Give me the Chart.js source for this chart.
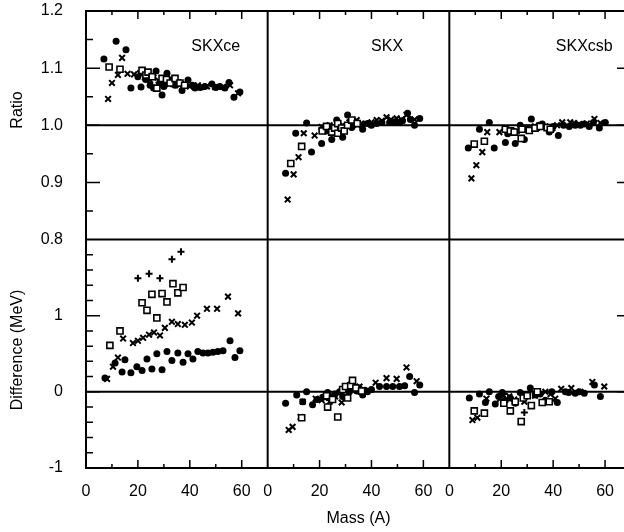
<!DOCTYPE html>
<html>
<head>
<meta charset="utf-8">
<script src="https://cdn.jsdelivr.net/npm/chart.js@4"></script>
<style>
  html, body { margin: 0; padding: 0; background: #fff; overflow: hidden; }
</style>
</head>
<body>
<canvas id="chart" width="640" height="532"></canvas>
<script>
// [mass, value] pairs
const panelNames = ['SKXce', 'SKX', 'SKXcsb'];
const massTicks = [0, 20, 40, 60];
const ratioTicks = [0.8, 0.9, 1.0, 1.1, 1.2];
const diffTicks = [-1, 0, 1];

const ceRatioDot = [[6.9,1.116],[11.6,1.147],[15.4,1.132],[17.3,1.065],[20,1.085],[21.2,1.067],[23,1.08],[24.7,1.07],[26,1.065],[27.0,1.095],[28.5,1.072],[29.3,1.053],[30,1.068],[31.2,1.091],[33,1.079],[34.3,1.07],[36,1.075],[37.0,1.061],[39.3,1.079],[41,1.07],[42.0,1.065],[44,1.066],[45.8,1.068],[48.5,1.072],[50,1.066],[51.6,1.068],[53.5,1.065],[55.1,1.075],[57.0,1.049],[59.3,1.058]];
const ceRatioCross = [[8.5,1.046],[10,1.074],[12.3,1.088],[13.9,1.118],[16,1.09],[18.5,1.089],[20.8,1.091],[22.7,1.084],[24.7,1.079],[26,1.083],[28,1.078],[30.4,1.075],[32,1.072],[34.3,1.075],[36,1.07],[38.1,1.072],[40,1.068],[43.1,1.07],[44.5,1.067],[46.6,1.068],[49.7,1.067],[52.8,1.067],[55.5,1.07],[58.6,1.056]];
const ceRatioSquare = [[8.9,1.102],[13.1,1.098],[21.6,1.096],[23.1,1.088],[23.9,1.093],[25.5,1.085],[27.3,1.065],[29.3,1.082],[31,1.08],[32.4,1.074],[34.3,1.082],[36.2,1.074],[38,1.07]];

const skxRatioDot = [[6.9,0.916],[10.8,0.986],[15,1.004],[16.9,0.953],[20.8,0.968],[22.5,0.99],[24.7,0.975],[25,0.995],[26.6,1.009],[27.7,0.988],[28.9,0.979],[29.8,0.998],[30.8,1.018],[32.4,0.996],[33,1.0],[34.3,1.005],[36.2,1.0],[36.6,0.993],[38.5,1.003],[40,1.0],[42,1.003],[44,1.005],[47,1.005],[49,1.006],[50.8,1.005],[52,1.008],[53.9,1.021],[55,1.01],[56.6,1.0],[58.6,1.012]];
const skxRatioCross = [[7.7,0.87],[10,0.914],[11.9,0.944],[13.9,0.986],[18.1,0.982],[20.8,0.997],[22,0.99],[23.9,1.0],[26,0.995],[29,1.0],[31.5,1.005],[34.3,1.009],[36,1.003],[38.1,1.002],[40,1.005],[42,1.009],[44,1.008],[45.8,1.014],[47.5,1.01],[49.7,1.012],[51.5,1.01],[53.5,1.018],[56.6,1.01]];
const skxRatioSquare = [[8.9,0.933],[13.1,0.963],[21,0.99],[22.7,0.998],[24.7,0.988],[25.8,0.995],[27,1.003],[27,0.986],[28.5,0.995],[29.5,0.99],[30.8,1.0],[32.4,1.009],[34.5,1.003]];

const csbRatioDot = [[7.3,0.96],[11.6,0.993],[15.4,1.005],[17.3,0.96],[21.6,0.97],[22.5,0.985],[24.3,0.988],[25.4,0.968],[27.3,1.0],[28.9,0.975],[30,0.995],[31.6,1.011],[33.9,0.995],[34.5,1.0],[35.8,1.002],[38.5,0.988],[40,0.998],[42,0.982],[44,1.0],[46.2,0.998],[48.5,1.0],[50.5,1.0],[52,1.002],[53.9,0.998],[55.5,1.005],[57.8,0.995],[60.1,1.005]];
const csbRatioCross = [[8.5,0.907],[10.4,0.93],[12.7,0.953],[14.6,0.988],[19.3,0.988],[21.5,0.993],[23.1,0.991],[26,0.99],[30,0.995],[33,0.998],[37,0.998],[39.7,0.995],[41.5,1.0],[43.5,1.005],[46.6,1.005],[48,1.004],[50,1.002],[53,1.003],[55.9,1.011],[58.2,1.004]];
const csbRatioSquare = [[9.6,0.967],[13.5,0.972],[21.6,0.993],[23.5,0.99],[25,0.988],[27.7,0.977],[28,0.993],[30.8,0.991],[33,0.995],[35,0.998],[37.7,0.996],[38.9,0.993]];

const ceDiffDot = [[7.3,0.18],[11.2,0.38],[13.9,0.26],[15,0.42],[17.3,0.25],[19.6,0.33],[21.6,0.28],[23.5,0.43],[25.4,0.30],[27.3,0.50],[29.3,0.29],[31.2,0.53],[33.1,0.41],[35.4,0.51],[37.4,0.39],[39.3,0.50],[41.2,0.43],[43.1,0.53],[45.1,0.51],[47,0.51],[48.9,0.52],[50.8,0.53],[52.8,0.54],[55.5,0.67],[57.4,0.45],[59.3,0.54]];
const ceDiffCross = [[8.1,0.17],[10.4,0.33],[12.3,0.45],[14.3,0.70],[18.1,0.64],[20,0.67],[22,0.71],[24.3,0.75],[26.2,0.78],[28.5,0.74],[30.4,0.84],[33.1,0.92],[35.4,0.89],[38.1,0.88],[40.8,0.91],[42.8,1.0],[46.6,1.09],[50.5,1.09],[54.7,1.25],[58.6,1.03]];
const ceDiffSquare = [[9.2,0.61],[13.1,0.80],[21.6,1.17],[23.5,1.07],[25.4,1.28],[27.3,0.97],[29.3,1.29],[31.2,1.18],[33.5,1.42],[35.4,1.30],[37.4,1.37]];
const ceDiffPlus = [[20,1.49],[24.3,1.55],[28.5,1.49],[33.1,1.74],[36.6,1.84]];

const skxDiffDot = [[6.9,-0.15],[11.2,-0.04],[13.5,-0.13],[15,0.0],[17.3,-0.17],[19,-0.1],[21.2,-0.07],[23.1,-0.01],[25,-0.06],[26,-0.03],[27.7,0.0],[28.9,-0.06],[30.8,0.05],[31.5,0.0],[32.4,0.12],[33.5,0.06],[34.3,0.01],[35.4,0.04],[36.6,-0.04],[37.5,0.02],[38.5,0.0],[40,0.03],[43.1,0.07],[45.8,0.07],[48.2,0.07],[50.8,0.07],[52.8,0.08],[54.7,0.2],[56.6,-0.01],[58.6,0.09]];
const skxDiffCross = [[8.1,-0.50],[9.6,-0.46],[12.7,-0.33],[13.5,-0.13],[18.5,-0.09],[20.8,-0.11],[22,-0.08],[23.9,-0.13],[26,-0.06],[28.5,-0.14],[30.8,-0.02],[33,0.04],[35.4,0.07],[41.6,0.12],[45.8,0.18],[49.7,0.17],[53.5,0.32],[57.4,0.14]];
const skxDiffSquare = [[13.1,-0.34],[22.7,-0.05],[23.1,-0.2],[25,-0.1],[27,-0.33],[28.9,0.03],[30,0.07],[30.8,-0.08],[32,0.08],[32.7,0.15],[34,0.05],[36.2,0.01]];

const csbDiffDot = [[7.7,-0.08],[11.6,-0.03],[13.9,-0.14],[15.4,0.0],[17.7,-0.16],[19,-0.06],[20.4,-0.01],[21.6,-0.11],[23.5,-0.08],[25.4,-0.15],[27.3,-0.01],[29,-0.05],[31.2,0.05],[33.1,-0.04],[35,-0.03],[37,-0.11],[39.5,0.0],[41.6,-0.14],[44.7,0.0],[46,-0.01],[48.5,-0.02],[50,0.0],[52,-0.02],[55.9,0.09],[58.2,-0.06]];
const csbDiffCross = [[8.9,-0.37],[10.8,-0.34],[14.3,-0.09],[19.6,-0.09],[21,-0.05],[23.1,-0.06],[25,-0.1],[28.9,-0.13],[33,-0.05],[37,0.0],[39,-0.03],[40.8,-0.09],[43.1,0.04],[47,0.05],[50.5,0.0],[55.1,0.13],[59.7,0.07]];
const csbDiffSquare = [[9.6,-0.25],[13.5,-0.28],[21,-0.15],[23.5,-0.25],[25.4,-0.13],[27.7,-0.39],[28.5,-0.08],[30,-0.05],[31.6,-0.18],[33.9,0.0],[35.8,-0.14],[38.5,-0.13]];
const csbDiffPlus = [[28.9,-0.27]];

const markers = {
  dot: { pointStyle: 'circle', pointRadius: 3.5, backgroundColor: '#000', borderColor: '#000', borderWidth: 0 },
  cross: { pointStyle: 'crossRot', pointRadius: 4, backgroundColor: '#000', borderColor: '#000', borderWidth: 2 },
  square: { pointStyle: 'rect', pointRadius: 4.3, backgroundColor: '#fff', borderColor: '#000', borderWidth: 1.6 },
  plus: { pointStyle: 'cross', pointRadius: 3.5, backgroundColor: '#000', borderColor: '#000', borderWidth: 2 }
};

function series(points, kind, xId, yId) {
  return Object.assign({
    data: points.map(p => ({ x: p[0], y: p[1] })),
    xAxisID: xId,
    yAxisID: yId,
    showLine: false,
    clip: false
  }, markers[kind]);
}

const datasets = [
  series(ceRatioSquare, 'square', 'x1', 'yTop'),
  series(ceRatioCross, 'cross', 'x1', 'yTop'),
  series(ceRatioDot, 'dot', 'x1', 'yTop'),
  series(skxRatioSquare, 'square', 'x2', 'yTop'),
  series(skxRatioCross, 'cross', 'x2', 'yTop'),
  series(skxRatioDot, 'dot', 'x2', 'yTop'),
  series(csbRatioSquare, 'square', 'x3', 'yTop'),
  series(csbRatioCross, 'cross', 'x3', 'yTop'),
  series(csbRatioDot, 'dot', 'x3', 'yTop'),
  series(ceDiffSquare, 'square', 'x1', 'yBot'),
  series(ceDiffCross, 'cross', 'x1', 'yBot'),
  series(ceDiffDot, 'dot', 'x1', 'yBot'),
  series(ceDiffPlus, 'plus', 'x1', 'yBot'),
  series(skxDiffSquare, 'square', 'x2', 'yBot'),
  series(skxDiffCross, 'cross', 'x2', 'yBot'),
  series(skxDiffDot, 'dot', 'x2', 'yBot'),
  series(csbDiffSquare, 'square', 'x3', 'yBot'),
  series(csbDiffCross, 'cross', 'x3', 'yBot'),
  series(csbDiffDot, 'dot', 'x3', 'yBot'),
  series(csbDiffPlus, 'plus', 'x3', 'yBot')
];

const FONT = { family: '"Liberation Sans", Arial, sans-serif', size: 16 };

function noPadding(s) {
  s.paddingLeft = 0; s.paddingRight = 0; s.paddingTop = 0; s.paddingBottom = 0;
}

function massAxis(withTitle) {
  return {
    type: 'linear',
    position: 'bottom',
    stack: 'mass',
    min: 0,
    max: 70,
    offset: false,
    grid: { display: false, drawTicks: false },
    border: { display: false },
    afterBuildTicks: s => { s.ticks = massTicks.map(v => ({ value: v })); },
    ticks: {
      autoSkip: false,
      maxRotation: 0,
      padding: 14,
      color: '#000',
      font: FONT
    },
    title: { display: withTitle, text: 'Mass (A)', color: '#000', font: FONT, padding: { top: 0, bottom: 4 } },
    afterFit: s => { s.height = 64; noPadding(s); }
  };
}

function valueAxis(min, max, values, fmt) {
  return {
    type: 'linear',
    position: 'left',
    stack: 'left',
    min: min,
    max: max,
    grid: { display: false, drawTicks: false },
    border: { display: false },
    afterBuildTicks: s => { s.ticks = values.map(v => ({ value: v })); },
    ticks: {
      autoSkip: false,
      padding: 23,
      color: '#000',
      font: FONT,
      callback: fmt
    },
    afterFit: s => { s.width = 86; noPadding(s); }
  };
}

const framePlugin = {
  id: 'frame',
  beforeDatasetsDraw(chart) {
    const { ctx, chartArea: a, scales } = chart;
    ctx.save();
    ctx.strokeStyle = '#000';
    ctx.lineWidth = 2;
    ctx.beginPath();
    ctx.rect(a.left, a.top, a.right - a.left, a.bottom - a.top);
    // panel separators
    [scales.x2.left, scales.x3.left].forEach(x => { ctx.moveTo(x, a.top); ctx.lineTo(x, a.bottom); });
    ctx.moveTo(a.left, scales.yTop.bottom); ctx.lineTo(a.right, scales.yTop.bottom);
    // reference lines
    const r = scales.yTop.getPixelForValue(1.0);
    ctx.moveTo(a.left, r); ctx.lineTo(a.right, r);
    const z = scales.yBot.getPixelForValue(0);
    ctx.moveTo(a.left, z); ctx.lineTo(a.right, z);
    ctx.stroke();

    // inward tick marks
    ctx.lineWidth = 1.5;
    ctx.beginPath();
    ['x1', 'x2', 'x3'].forEach(id => {
      const s = scales[id];
      for (let v = 10; v <= 60; v += 10) {
        const x = s.getPixelForValue(v);
        const len = v % 20 === 0 ? 8 : 4;
        ctx.moveTo(x, a.bottom); ctx.lineTo(x, a.bottom - len);
        ctx.moveTo(x, a.top); ctx.lineTo(x, a.top + len);
      }
    });
    for (let i = 1; i < 8; i++) {
      const y = scales.yTop.getPixelForValue(0.8 + i * 0.05);
      const len = i % 2 === 0 ? 14 : 7;
      ctx.moveTo(a.left, y); ctx.lineTo(a.left + len, y);
      ctx.moveTo(a.right, y); ctx.lineTo(a.right - len, y);
    }
    for (let i = 1; i < 15; i++) {
      const y = scales.yBot.getPixelForValue(-1 + i * 0.2);
      const len = i % 5 === 0 ? 14 : 7;
      ctx.moveTo(a.left, y); ctx.lineTo(a.left + len, y);
      ctx.moveTo(a.right, y); ctx.lineTo(a.right - len, y);
    }
    ctx.stroke();
    ctx.restore();
  },
  afterDraw(chart) {
    const { ctx, scales } = chart;
    ctx.save();
    ctx.fillStyle = '#000';
    ctx.font = '16px "Liberation Sans", Arial, sans-serif';
    ctx.textAlign = 'center';
    ctx.textBaseline = 'middle';
    const labelMass = [50, 46, 52];
    ['x1', 'x2', 'x3'].forEach((id, i) => {
      ctx.fillText(panelNames[i], scales[id].getPixelForValue(labelMass[i]), scales.yTop.getPixelForValue(1.137));
    });
    ctx.translate(18, 110);
    ctx.rotate(-Math.PI / 2);
    ctx.fillText('Ratio', 0, 0);
    ctx.rotate(Math.PI / 2);
    ctx.translate(0, 240);
    ctx.rotate(-Math.PI / 2);
    ctx.fillText('Difference (MeV)', 0, 0);
    ctx.restore();
  }
};

new Chart(document.getElementById('chart'), {
  type: 'scatter',
  data: { datasets },
  options: {
    responsive: false,
    animation: false,
    devicePixelRatio: 1,
    layout: { padding: { top: 11, right: 9, left: 0, bottom: 0 }, autoPadding: false },
    plugins: { legend: { display: false }, tooltip: { enabled: false } },
    scales: {
      x1: massAxis(false),
      x2: massAxis(true),
      x3: massAxis(false),
      yBot: valueAxis(-1, 2, diffTicks, v => String(v)),
      yTop: valueAxis(0.8, 1.2, ratioTicks, v => v.toFixed(1))
    }
  },
  plugins: [framePlugin]
});
</script>
</body>
</html>
